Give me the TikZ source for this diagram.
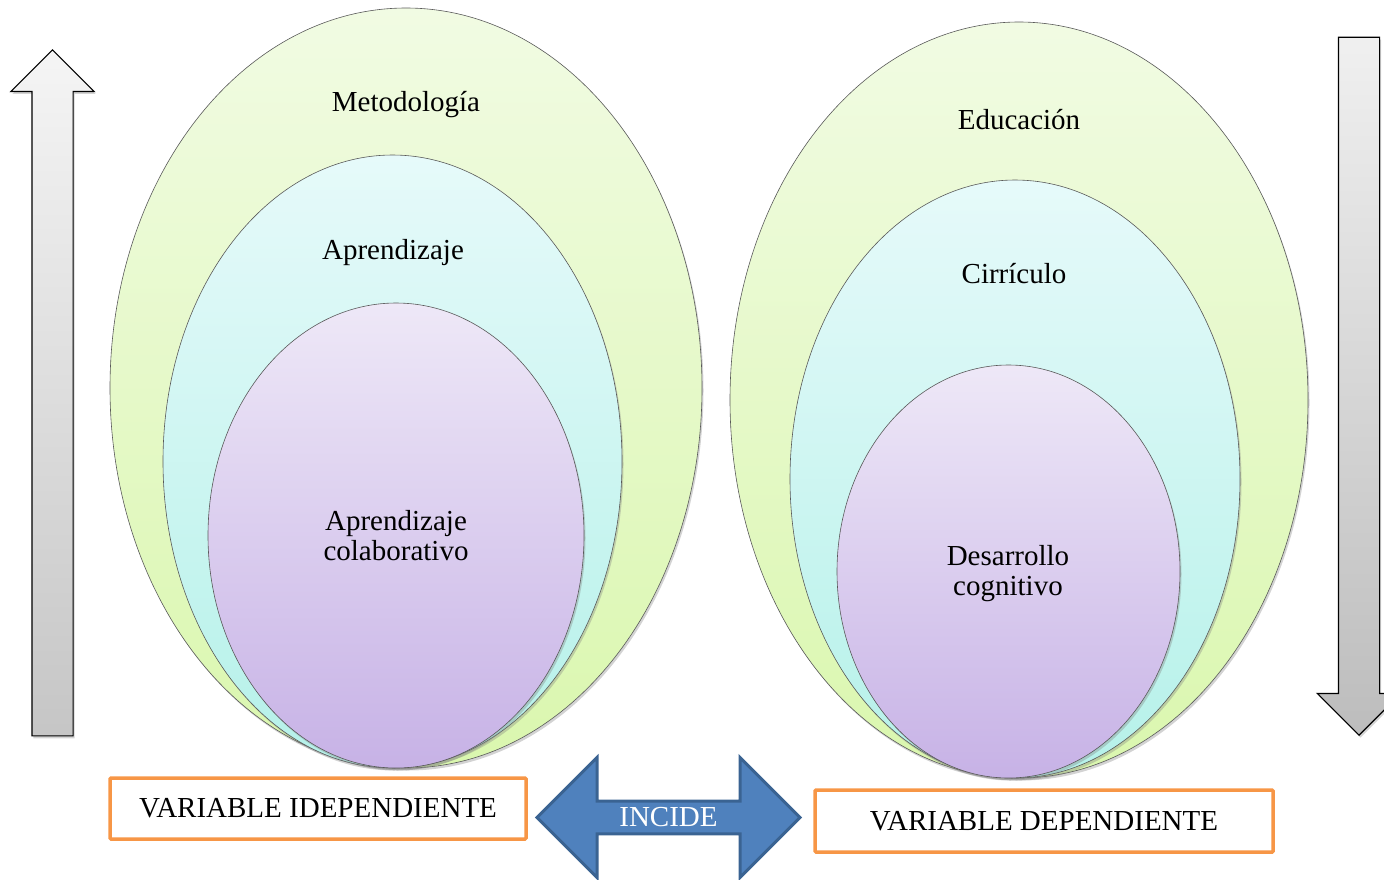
\documentclass[tikz,border=0pt]{standalone}
\usepackage{fontspec}
\setmainfont{Liberation Serif}
\usetikzlibrary{shapes.geometric,shapes.arrows,shadows}
\definecolor{verdeA}{HTML}{F1FBE3}
\definecolor{verdeB}{HTML}{DAF7AE}
\definecolor{cianA}{HTML}{E6FAFA}
\definecolor{cianB}{HTML}{B5F1E9}
\definecolor{lilaA}{HTML}{EEE8F7}
\definecolor{lilaB}{HTML}{C7B2E6}
\definecolor{naranja}{HTML}{F79646}
\definecolor{azul}{HTML}{4F81BD}
\definecolor{azulborde}{HTML}{3A6392}
\begin{document}
\begin{tikzpicture}[x=1pt,y=-1pt,
    texto/.style={font=\fontsize{29}{30}\selectfont,align=center},
    sombra/.style={drop shadow={shadow xshift=1.5pt,shadow yshift=-2.5pt,opacity=.35}},
    elipse/.style={ellipse,draw=black!65,line width=.6pt,inner sep=0pt,sombra},
    capa1/.style={elipse,top color=verdeA,bottom color=verdeB},
    capa2/.style={elipse,top color=cianA,bottom color=cianB},
    capa3/.style={elipse,top color=lilaA,bottom color=lilaB},
    flecha/.style={single arrow,draw=black,line width=1.2pt,inner sep=20pt,
      minimum width=82pt,single arrow head extend=21pt,sombra},
    caja/.style={draw=naranja,line width=3.5pt,rounded corners=1pt,fill=white}]
  \useasboundingbox (0,0) rectangle (1384,879);
  % flechas laterales
  \node[flecha,shape border rotate=90,minimum height=686pt,anchor=tip,
    top color=gray!8,bottom color=gray!45] (subir) at (52.5,49) {};
  \node[flecha,shape border rotate=270,minimum height=698pt,anchor=tip,
    top color=gray!12,bottom color=gray!52] (bajar) at (1359,736) {};
  % variable independiente
  \node[capa1,minimum width=592pt,minimum height=760pt] (metodo) at (406,388) {};
  \node[capa2,minimum width=459pt,minimum height=613pt] (aprend) at (392.5,461.5) {};
  \node[capa3,minimum width=376pt,minimum height=465pt] (colab) at (396,535.5) {};
  \node[texto] (metodo-txt) at (406,104.5) {Metodología};
  \node[texto] (aprend-txt) at (393,253) {Aprendizaje};
  \node[texto] (colab-txt) at (396,536) {Aprendizaje\\colaborativo};
  % variable dependiente
  \node[capa1,minimum width=578pt,minimum height=756pt] (educa) at (1019,400) {};
  \node[capa2,minimum width=450pt,minimum height=598pt] (curri) at (1015,479) {};
  \node[capa3,minimum width=343pt,minimum height=413pt] (desarr) at (1008.5,571.5) {};
  \node[texto] (educa-txt) at (1019,119.5) {Educación};
  \node[texto] (curri-txt) at (1014,273.5) {Cirrículo};
  \node[texto] (desarr-txt) at (1008,574) {Desarrollo\\cognitivo};
  % cajas y flecha doble
  \node[caja,texto,minimum width=416pt,minimum height=61pt] (indep) at (318,808.5)
    {VARIABLE IDEPENDIENTE};
  \node[caja,texto,minimum width=458pt,minimum height=62pt] (dep) at (1044,821)
    {VARIABLE DEPENDIENTE};
  \node[double arrow,fill=azul,draw=azulborde,line width=3pt,inner sep=0pt,
    minimum height=263pt,minimum width=120pt,double arrow head extend=30pt,
    texto,text=white] (incide) at (668.5,817.5) {INCIDE};
\end{tikzpicture}
\end{document}
